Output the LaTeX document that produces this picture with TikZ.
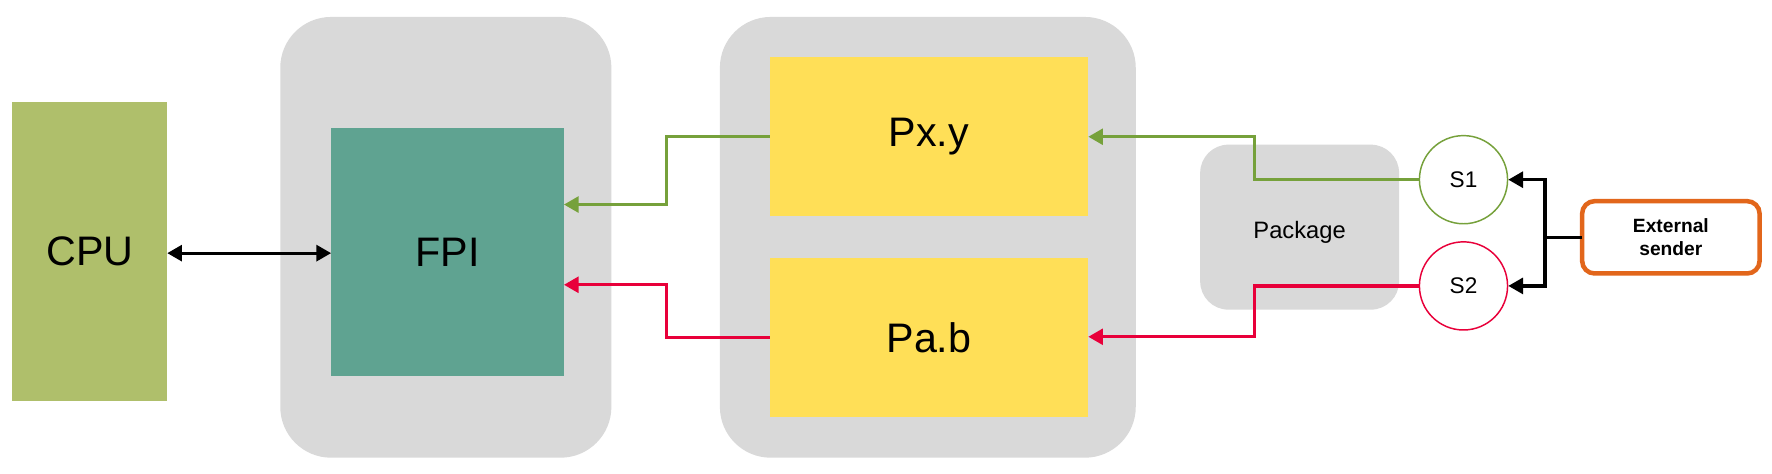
\documentclass[tikz,border=0pt]{standalone}
\usepackage{fontspec}
\setmainfont{Liberation Sans}
\usetikzlibrary{arrows.meta}
\definecolor{cgray}{HTML}{D9D9D9}
\definecolor{ccpu}{HTML}{AFBF6B}
\definecolor{cfpi}{HTML}{5FA391}
\definecolor{cyel}{HTML}{FFDF57}
\definecolor{cgreen}{HTML}{76A13B}
\definecolor{cred}{HTML}{E8003A}
\definecolor{corange}{HTML}{E2661B}
\tikzset{
  blk/.style={rectangle, inner sep=0pt, outer sep=0pt, draw=none},
  cont/.style={blk, fill=cgray, rounded corners=45pt},
  bigtxt/.style={font=\fontsize{36.5}{40}\selectfont},
  gline/.style={draw=cgreen, line width=2.9pt, -{Triangle[length=13pt,width=14pt]}},
  rline/.style={draw=cred, line width=2.9pt, -{Triangle[length=13pt,width=14pt]}},
  kline/.style={draw=black, line width=2.9pt, -{Triangle[length=13pt,width=14pt]}},
  sig/.style={circle, fill=white, line width=1.3pt, minimum size=78pt, inner sep=0pt, font=\fontsize{20}{22}\selectfont},
}
\begin{document}
\begin{tikzpicture}[x=1pt,y=-1pt]
\useasboundingbox[fill=white] (0,0) rectangle (1568,419.4);
% containers
\node[cont, minimum width=293pt, minimum height=390pt] (fpic) at (394.5,210) {};
\node[cont, minimum width=368pt, minimum height=390pt] (midc) at (821,210) {};
\node[blk, fill=cgray, rounded corners=25pt, minimum width=176pt, minimum height=146pt] (pkg) at (1150,201) {};
\node[font=\fontsize{21}{24}\selectfont, inner sep=0pt] (pkgt) at (1150,206) {Package};
% blocks
\node[blk, fill=ccpu, minimum width=137pt, minimum height=265pt, bigtxt] (cpu) at (79.5,222.5) {CPU};
\node[blk, fill=cfpi, minimum width=206pt, minimum height=220pt, bigtxt] (fpi) at (396,223) {FPI};
\node[blk, fill=cyel, minimum width=282pt, minimum height=141pt, bigtxt] (pxy) at (822,120.5) {Px.y};
\node[blk, fill=cyel, minimum width=282pt, minimum height=141pt, bigtxt] (pab) at (822,298.5) {Pa.b};
% signals
\node[sig, draw=cgreen] (s1) at (1295,159) {S1};
\node[sig, draw=cred] (s2) at (1295,253) {S2};
% external sender
\node[blk, draw=corange, line width=4pt, fill=white, rounded corners=11pt,
      minimum width=157pt, minimum height=64pt, align=center,
      font=\fontsize{17}{20}\selectfont\bfseries] (ext) at (1478.5,210) {External\\sender};
% connectors
\draw[draw=black, line width=2.9pt, {Triangle[length=13pt,width=14pt]}-{Triangle[length=13pt,width=14pt]}]
  (cpu.east |- 0,224) -- (fpi.west |- 0,224);
\coordinate (g1) at (590,181);
\coordinate (r1) at (590,252);
\draw[gline] (pxy.west) -| (g1) -- (fpi.east |- g1);
\draw[rline] (pab.west) -| (r1) -- (fpi.east |- r1);
\coordinate (g2) at (1110,121);
\coordinate (r2) at (1110,298);
\draw[gline] (s1.west) -| (g2) -- (pxy.east |- g2);
\draw[rline] (s2.west) -| (r2) -- (pab.east |- r2);
\coordinate (fork) at (1367,210);
\draw[draw=black, line width=2.9pt] (ext.west) -- (fork);
\draw[kline] (fork) |- (s1.east);
\draw[kline] (fork) |- (s2.east);
\end{tikzpicture}
\end{document}
